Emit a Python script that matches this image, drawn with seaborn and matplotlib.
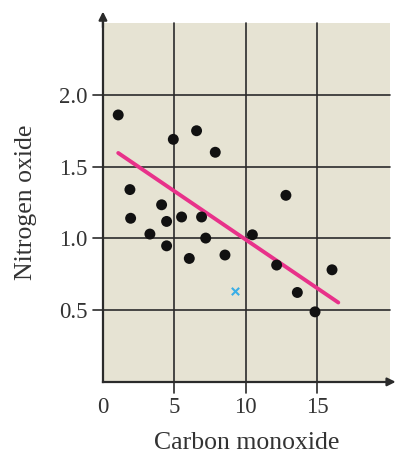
import numpy as np
import pandas as pd
import matplotlib
matplotlib.use("Agg")
import matplotlib.pyplot as plt
import seaborn as sns

# readings
carbon = [1.07, 4.93, 6.56, 7.87, 1.89, 12.82, 4.11, 1.94, 4.46, 5.51, 6.91,
          3.29, 7.20, 10.47, 4.46, 6.05, 8.55, 12.17, 16.05, 13.62, 14.86]
nitrogen = [1.86, 1.69, 1.75, 1.60, 1.34, 1.30, 1.234, 1.14, 1.118, 1.149, 1.149,
            1.03, 1.002, 1.025, 0.948, 0.86, 0.884, 0.814, 0.781, 0.623, 0.488]
extra_x = [9.27]
extra_y = [0.635]
fit_x = [1.07, 16.49]
fit_y = [1.595, 0.553]
x_ticks = [0, 5, 10, 15]
y_ticks = [0.5, 1.0, 1.5, 2.0]

df = pd.DataFrame({"Carbon monoxide": carbon, "Nitrogen oxide": nitrogen})

sns.set_style("white")
plt.rcParams["font.family"] = ["Liberation Serif", "DejaVu Serif"]

fig = plt.figure(figsize=(3.99, 4.53), dpi=100)
ax = fig.add_axes([0.258, 0.157, 0.719, 0.792])
ax.set_facecolor("#e6e3d3")

ax.set_xlim(0, 20.1)
ax.set_ylim(0, 2.5)

# grid lines, drawn past the axes so they double as tick marks
for v in x_ticks[1:]:
    ax.axvline(v, ymin=-0.03, ymax=1, color="#2b2b2b", lw=1.2, clip_on=False, zorder=1)
for v in y_ticks:
    ax.axhline(v, xmin=-0.035, xmax=1, color="#2b2b2b", lw=1.2, clip_on=False, zorder=1)

sns.lineplot(x=fit_x, y=fit_y, color="#e8318a", lw=2.8, ax=ax, zorder=3)
sns.scatterplot(data=df, x="Carbon monoxide", y="Nitrogen oxide", color="#111111",
                s=62, edgecolor="none", ax=ax, zorder=4)
sns.scatterplot(x=extra_x, y=extra_y, marker="x", color="#3aaee6", s=28,
                linewidth=1.5, ax=ax, zorder=4)

for side in ["top", "right"]:
    ax.spines[side].set_visible(False)
for side in ["left", "bottom"]:
    ax.spines[side].set_color("#2b2b2b")
    ax.spines[side].set_linewidth(1.6)

# arrow heads on the axes
ax.annotate("", xy=(0, 1.04), xytext=(0, 0.98), xycoords="axes fraction",
            arrowprops=dict(arrowstyle="-|>", color="#2b2b2b", lw=1.6, mutation_scale=12))
ax.annotate("", xy=(1.03, 0), xytext=(0.98, 0), xycoords="axes fraction",
            arrowprops=dict(arrowstyle="-|>", color="#2b2b2b", lw=1.6, mutation_scale=12))

ax.set_xticks(x_ticks)
ax.set_yticks(y_ticks)
ax.set_yticklabels([f"{v:.1f}" for v in y_ticks])
ax.tick_params(length=0, labelsize=16.5, colors="#333333")
ax.tick_params(axis="x", pad=11)
ax.tick_params(axis="y", pad=11)

ax.set_xlabel("Carbon monoxide", fontsize=18.5, color="#333333", labelpad=10)
ax.set_ylabel("Nitrogen oxide", fontsize=18.5, color="#333333", labelpad=16)

fig.savefig("out.png", dpi=100)
